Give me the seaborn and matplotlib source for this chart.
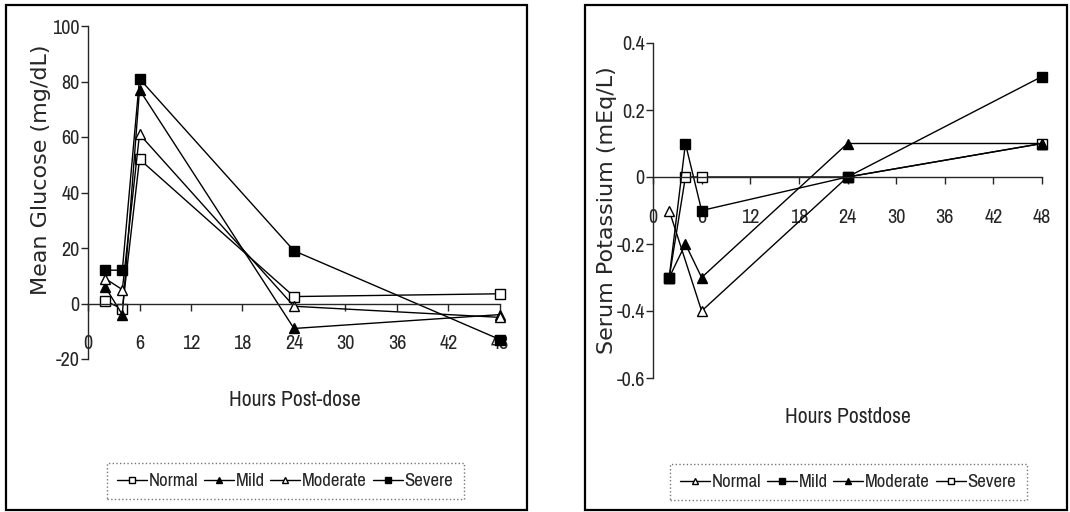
import matplotlib
matplotlib.use("Agg")
import matplotlib.pyplot as plt
import pandas as pd
import seaborn as sns
from matplotlib import font_manager
from matplotlib.patches import Rectangle
from matplotlib.lines import Line2D
from matplotlib.ticker import FuncFormatter

# ---- data -------------------------------------------------------------
hours = [2, 4, 6, 24, 48]
groups = ["Normal", "Mild", "Moderate", "Severe"]

glucose_normal = [1, -2, 52, 2.5, 3.5]
glucose_mild = [6, -4, 77, -9, -4]
glucose_moderate = [9, 5, 61, -1, -5]
glucose_severe = [12, 12, 81, 19, -13]

potassium_normal = [-0.1, None, -0.4, 0.0, 0.1]
potassium_mild = [-0.3, 0.1, -0.1, 0.0, 0.3]
potassium_moderate = [-0.3, -0.2, -0.3, 0.1, 0.1]
potassium_severe = [-0.3, 0.0, 0.0, 0.0, 0.1]

x_ticks = [0, 6, 12, 18, 24, 30, 36, 42, 48]
glucose_ticks = [-20, 0, 20, 40, 60, 80, 100]
potassium_ticks = [-0.6, -0.4, -0.2, 0, 0.2, 0.4]

glucose_label = "Mean Glucose (mg/dL)"
potassium_label = "Serum Potassium (mEq/L)"
glucose_xlabel = "Hours Post-dose"
potassium_xlabel = "Hours Postdose"

# ---- styling ----------------------------------------------------------
sns.set_style("ticks")
plt.rcParams["font.family"] = ["DejaVu Sans"]
plt.rcParams["axes.unicode_minus"] = False


def pick_narrow():
    for name in ["Liberation Sans Narrow", "Arial Narrow", "Archivo Narrow",
                 "Roboto Condensed"]:
        try:
            font_manager.findfont(font_manager.FontProperties(family=name),
                                  fallback_to_default=False)
            return dict(family=name)
        except Exception:
            pass
    return dict(family="Liberation Sans")


NARROW = pick_narrow()


def long_form(values_by_group):
    rows = []
    for g, vals in values_by_group.items():
        for h, v in zip(hours, vals):
            if v is not None:
                rows.append({"hour": h, "value": v, "group": g})
    return pd.DataFrame(rows)


glucose_df = long_form(dict(zip(groups, [glucose_normal, glucose_mild,
                                         glucose_moderate, glucose_severe])))
potassium_df = long_form(dict(zip(groups, [potassium_normal, potassium_mild,
                                           potassium_moderate, potassium_severe])))

# marker style per group in each panel: (marker, face colour)
glucose_style = {"Normal": ("s", "white"), "Mild": ("^", "black"),
                 "Moderate": ("^", "white"), "Severe": ("s", "black")}
potassium_style = {"Normal": ("^", "white"), "Mild": ("s", "black"),
                   "Moderate": ("^", "black"), "Severe": ("s", "white")}

W, H = 1070, 512
fig = plt.figure(figsize=(W / 100, H / 100), dpi=100)


def px_axes(x0, y_top, x1, y_bot):
    return fig.add_axes([x0 / W, 1 - y_bot / H, (x1 - x0) / W, (y_bot - y_top) / H])


ax1 = px_axes(88, 26, 500, 359)
ax2 = px_axes(653, 43, 1042, 378)


def draw_panel(ax, df, style, order, ylim, yticks, yfmt):
    for g in order:
        m, fc = style[g]
        sub = df[df["group"] == g]
        sns.lineplot(data=sub, x="hour", y="value", ax=ax, color="black",
                     linewidth=1.0, marker=m, markersize=7,
                     markerfacecolor=fc, markeredgecolor="black",
                     markeredgewidth=1.0, clip_on=False, legend=False,
                     sort=False, errorbar=None)
    ax.set_xlim(0, 48)
    ax.set_ylim(*ylim)
    ax.set_xticks(x_ticks)
    ax.set_yticks(yticks)
    ax.yaxis.set_major_formatter(FuncFormatter(yfmt))
    ax.spines["top"].set_visible(False)
    ax.spines["right"].set_visible(False)
    ax.spines["bottom"].set_position(("data", 0))
    ax.spines["bottom"].set_linewidth(1.0)
    ax.spines["left"].set_linewidth(1.0)
    ax.tick_params(axis="x", direction="out", length=5, width=1, pad=17)
    ax.tick_params(axis="y", direction="out", length=5, width=1, pad=1)
    for lab in ax.get_xticklabels() + ax.get_yticklabels():
        lab.set_fontproperties(font_manager.FontProperties(size=14.5, **NARROW))
    ax.set_xlabel("")
    ax.set_ylabel("")


draw_panel(ax1, glucose_df, glucose_style, groups, (-20, 100), glucose_ticks,
           lambda v, p: f"{v:g}")
draw_panel(ax2, potassium_df, potassium_style,
           ["Severe", "Normal", "Moderate", "Mild"], (-0.6, 0.4),
           potassium_ticks, lambda v, p: f"{round(v, 1):g}")

# axis titles placed in figure pixels
fig.text(41 / W, 1 - 170 / H, glucose_label, rotation=90, ha="center",
         va="center", fontsize=16, family="DejaVu Sans")
fig.text(607 / W, 1 - 210 / H, potassium_label, rotation=90, ha="center",
         va="center", fontsize=16, family="DejaVu Sans")
fig.text(295 / W, 1 - 400 / H, glucose_xlabel, ha="center", va="center",
         fontsize=15.5, fontweight="bold", **NARROW)
fig.text(848 / W, 1 - 417 / H, potassium_xlabel, ha="center", va="center",
         fontsize=15.5, **NARROW)

# panel borders
for x0, x1 in [(6, 527), (585, 1067)]:
    fig.add_artist(Rectangle((x0 / W, 1 - 510 / H), (x1 - x0) / W, 505 / H,
                             transform=fig.transFigure, fill=False,
                             edgecolor="black", linewidth=1.6))


def make_legend(style, cx, cy):
    handles = [Line2D([], [], color="black", linewidth=1.0, marker=style[g][0],
                      markersize=5, markerfacecolor=style[g][1],
                      markeredgecolor="black") for g in groups]
    leg = fig.legend(handles, groups, loc="center",
                     bbox_to_anchor=(cx / W, 1 - cy / H), ncol=4,
                     frameon=True, fancybox=False, handlelength=1.6,
                     handletextpad=0.1, columnspacing=0.3, borderpad=0.55,
                     borderaxespad=0,
                     prop=font_manager.FontProperties(size=13.5, **NARROW))
    fr = leg.get_frame()
    fr.set_edgecolor("#555555")
    fr.set_linestyle(":")
    fr.set_linewidth(1.0)
    return leg


make_legend(glucose_style, 285, 481)
make_legend(potassium_style, 848, 482)

fig.savefig("out.png", dpi=100)
